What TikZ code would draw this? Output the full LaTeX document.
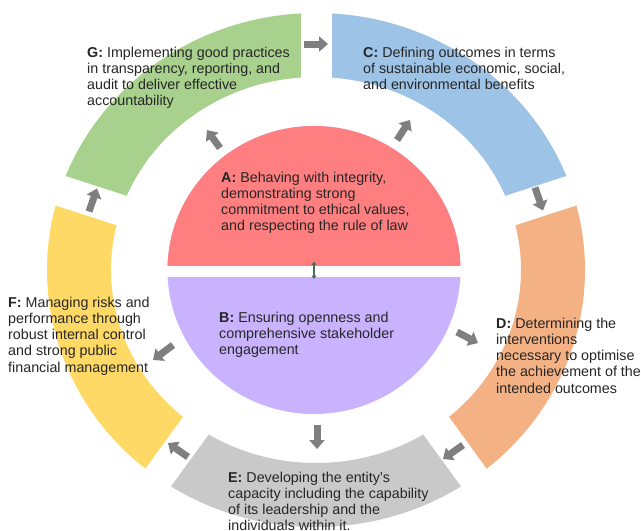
\documentclass[tikz,border=0pt]{standalone}
\usepackage{fontspec}
\setmainfont{Liberation Sans}
\usetikzlibrary{arrows.meta,calc}
\definecolor{cG}{HTML}{A9D18E}
\definecolor{cC}{HTML}{9DC3E6}
\definecolor{cD}{HTML}{F4B183}
\definecolor{cE}{HTML}{C9C9C9}
\definecolor{cF}{HTML}{FFD966}
\definecolor{cA}{HTML}{FF7F80}
\definecolor{cB}{HTML}{C9B3FE}
\definecolor{arrowgray}{HTML}{7F7F7F}
\definecolor{textcol}{HTML}{262626}
\definecolor{dblcol}{HTML}{4F6B5C}
\newcommand{\ringseg}[3]{%
  \fill[#1] ($(c)+(#2:269 and 257)$) arc[start angle=#2, end angle=#3, x radius=269, y radius=257]
    -- ($(c)+(#3:205 and 193)$) arc[start angle=#3, end angle=#2, x radius=205, y radius=193] -- cycle;}
\begin{document}
\begin{tikzpicture}[x=1pt,y=-1pt,
  txt/.style={align=left, font=\fontsize{14.3}{16.3}\selectfont, text=textcol, inner sep=0pt, anchor=base west},
  blockarrow/.style={draw=arrowgray, line width=7pt, -{Triangle[width=15pt,length=9pt]}}]
\useasboundingbox (0,0) rectangle (641,531);
\fill[white] (0,0) rectangle (641,531);
\clip (0,0) rectangle (641,531);
\coordinate (c) at (316,270);
% ring segments
\ringseg{cC}{-90}{-18}
\ringseg{cD}{-18}{54}
\ringseg{cE}{54}{126}
\ringseg{cF}{126}{198}
\ringseg{cG}{198}{270}
\foreach \a in {-90,-18,54,126,198}
  \draw[white, line width=31pt] ($(c)+(\a:185 and 173)$) -- ($(c)+(\a:295 and 283)$);
% inner circle
\fill[cB] (314,270) ellipse [x radius=146.5, y radius=144];
\begin{scope}
  \clip (150,100) rectangle (480,265.5);
  \fill[cA] (314,270) ellipse [x radius=146.5, y radius=144];
\end{scope}
\fill[white] (160,265.5) rectangle (470,276.5);
\coordinate (dT) at (314,261.5);
\coordinate (dB) at (314,279);
\draw[line width=2pt, dblcol, {Triangle[width=5pt,length=3.5pt]}-{Triangle[width=5pt,length=3.5pt]}] (dT) -- (dB);
% ring arrows (clockwise)
\coordinate (r1s) at (304,44);   \coordinate (r1e) at (328,44);
\coordinate (r2s) at (535,187.5);\coordinate (r2e) at (543,210.5);
\coordinate (r3s) at (463,445);  \coordinate (r3e) at (443,459);
\coordinate (r4s) at (188,457);  \coordinate (r4e) at (168,443);
\coordinate (r5s) at (89,211.5); \coordinate (r5e) at (97,188.5);
\foreach \i in {1,...,5} \draw[blockarrow] (r\i s) -- (r\i e);
% inner arrows (outward)
\coordinate (i1s) at (220,148); \coordinate (i1e) at (207,130);
\coordinate (i2s) at (397,140); \coordinate (i2e) at (410,120);
\coordinate (i3s) at (457,332); \coordinate (i3e) at (478,343);
\coordinate (i4s) at (317,425); \coordinate (i4e) at (317,449);
\coordinate (i5s) at (173,345); \coordinate (i5e) at (153,360);
\foreach \i in {1,...,5} \draw[blockarrow] (i\i s) -- (i\i e);
% texts (anchor = baseline of last line)
\node[txt] (tG) at (87,105.9) {\textbf{G:} Implementing good practices\\in transparency, reporting, and\\audit to deliver effective\\accountability};
\node[txt] (tC) at (363,89.6) {\textbf{C:} Defining outcomes in terms\\of sustainable economic, social,\\and environmental benefits};
\node[txt] (tA) at (221,230.9) {\textbf{A:} Behaving with integrity,\\demonstrating strong\\commitment to ethical values,\\and respecting the rule of law};
\node[txt] (tB) at (219,354.6) {\textbf{B:} Ensuring openness and\\comprehensive stakeholder\\engagement};
\node[txt] (tD) at (496,393.2) {\textbf{D:} Determining the\\interventions\\necessary to optimise\\the achievement of the\\intended outcomes};
\node[txt] (tE) at (228,530.9) {\textbf{E:} Developing the entity’s\\capacity including the capability\\of its leadership and the\\individuals within it.};
\node[txt] (tF) at (8,372.2) {\textbf{F:} Managing risks and\\performance through\\robust internal control\\and strong public\\financial management};
\end{tikzpicture}
\end{document}
